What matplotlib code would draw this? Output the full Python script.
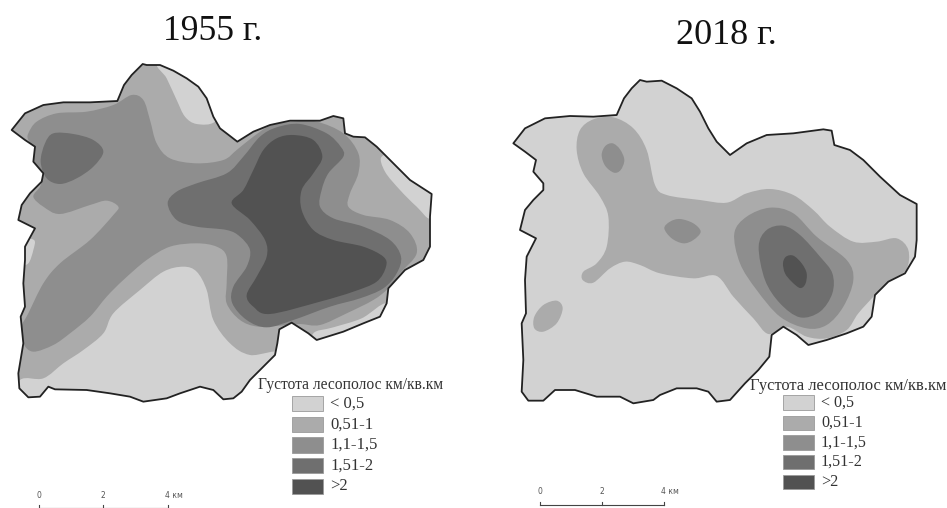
import matplotlib
matplotlib.use("Agg")
import matplotlib.pyplot as plt
from matplotlib.patches import PathPatch, Rectangle
from matplotlib.path import Path

W, H = 947, 508
plt.rcParams['font.family'] = ['Liberation Serif', 'DejaVu Serif']

COLORS = ['#d2d2d2', '#ababab', '#8e8e8e', '#6f6f6f', '#525252']
CLASS_LABELS = ['< 0,5', '0,51-1', '1,1-1,5', '1,51-2', '>2']
LEGEND_TITLE = 'Густота лесополос км/кв.км'
SCALE_LABELS = ['0', '2', '4 км']

# ---- 1955 ----
border_1955 = [(35,240),(75,190),(130,165),(190,157),(270,157),(352,153),(372,105),(395,75),(428,42),(440,45),(480,45),(520,62),(560,85),(595,110),(620,145),(640,200),(660,235),(690,258),(712,275),(760,245),(810,225),(870,212),(960,212),(1000,198),(1030,205),(1035,250),(1060,260),(1095,262),(1130,290),(1180,340),(1230,390),(1295,432),(1290,500),(1290,590),(1270,630),(1215,660),(1165,715),(1160,760),(1140,800),(1090,820),(1030,845),(950,870),(925,850),(875,818),(838,838),(832,880),(825,915),(790,950),(750,990),(725,1025),(700,1045),(670,1048),(640,1020),(600,1010),(540,1030),(500,1045),(430,1055),(390,1040),(330,1030),(260,1020),(165,1018),(145,1010),(120,1040),(85,1042),(58,1015),(55,970),(70,880),(62,800),(75,770),(70,700),(75,630),(75,590),(105,535),(55,510),(65,465),(90,430),(125,395),(130,370),(100,335),(105,290),(75,270)]
light_1955_a = [(475,40),(500,85),(530,150),(555,200),(590,222),(645,215),(680,150),(600,40)]
light_1955_b = [(1145,320),(1155,365),(1200,420),(1250,470),(1295,505),(1330,420),(1200,320)]
light_1955_c = [(102,570),(100,600),(85,640),(60,640),(60,570)]
light_1955_d = [(550,650),(490,665),(420,720),(340,790),(310,850),(250,900),(190,940),(130,985),(60,990),(30,1070),(800,1080),(850,915),(750,915),(690,880),(640,810),(620,720),(590,665)]
light_1955_e = [(940,850),(1000,832),(1085,805),(1160,760),(1180,830),(950,900)]
level2_1955 = [(85,250),(110,215),(170,190),(260,185),(340,165),(395,135),(430,150),(450,210),(470,280),(510,325),(590,340),(670,330),(710,300),(760,260),(810,228),(880,215),(950,215),(1030,250),(1075,310),(1075,370),(1050,430),(1045,470),(1090,495),(1170,510),(1230,550),(1250,610),(1200,670),(1165,715),(1120,750),(1040,790),(960,825),(900,822),(860,825),(775,830),(720,810),(680,760),(680,700),(680,620),(650,590),(590,580),(510,590),(440,630),(370,690),(320,740),(270,800),(210,850),(160,885),(100,905),(70,880),(65,830),(85,790),(130,700),(180,640),(270,570),(340,495),(355,470),(320,452),(270,465),(180,492),(130,470),(100,440),(120,410),(125,380),(100,335),(105,300),(85,270)]
level3_1955_a = [(135,280),(160,250),(220,252),(280,270),(310,305),(280,350),(230,385),(180,402),(140,385),(122,335)]
level3_1955_b = [(503,460),(530,425),(590,400),(680,370),(730,320),(780,260),(830,232),(900,222),(980,250),(1022,290),(1030,320),(985,370),(965,420),(960,470),(1000,505),(1090,530),(1170,570),(1203,620),(1190,670),(1150,715),(1080,745),(990,770),(880,810),(800,832),(740,810),(697,760),(700,710),(740,650),(750,600),(720,560),(680,540),(590,530),(530,510)]
level4_1955 = [(695,460),(730,420),(760,360),(790,300),(830,265),(880,255),(940,270),(967,320),(940,370),(905,420),(905,480),(940,540),(1000,570),(1090,590),(1150,620),(1158,650),(1130,695),(1060,725),(960,755),(810,792),(760,770),(740,735),(770,680),(800,620),(795,570),(750,510)]

# ---- 2018 ----
border_2018 = [(40,250),(75,205),(135,175),(210,168),(280,170),(350,165),(372,115),(395,85),(420,60),(440,65),(485,62),(530,85),(575,115),(600,155),(625,205),(650,245),(690,285),(740,250),(800,225),(880,220),(970,208),(995,212),(1003,255),(1050,270),(1090,300),(1140,350),(1200,405),(1250,432),(1250,540),(1245,590),(1215,640),(1165,665),(1125,705),(1115,770),(1090,800),(1040,820),(980,840),(925,855),(890,825),(850,800),(815,825),(808,890),(775,930),(735,970),(690,1020),(650,1025),(625,995),(590,985),(530,985),(480,1005),(460,1020),(400,1030),(360,1010),(290,1010),(225,990),(165,990),(130,1022),(85,1022),(65,995),(70,900),(65,790),(78,760),(75,660),(80,590),(108,535),(60,510),(75,450),(100,420),(130,390),(130,370),(100,335),(108,300),(75,275)]
level1_2018_a = [(230,270),(240,210),(280,178),(340,172),(400,205),(440,270),(465,375),(500,405),(600,420),(680,428),(740,400),(810,387),(880,405),(940,450),(990,500),(1060,545),(1130,545),(1190,535),(1225,570),(1218,630),(1165,665),(1125,705),(1075,760),(1040,810),(980,835),(920,830),(860,800),(805,822),(760,775),(700,710),(650,648),(580,655),(480,640),(420,615),(375,605),(330,625),(280,668),(248,660),(250,635),(290,610),(320,560),(325,470),(300,410),(250,340)]
level1_2018_b = [(103,770),(130,735),(170,722),(188,745),(170,790),(130,815),(103,805)]
level2_2018_a = [(305,285),(316,258),(338,250),(360,268),(373,300),(362,330),(342,338),(316,318)]
level2_2018_b = [(493,505),(510,485),(540,477),(580,490),(602,515),(580,540),(550,550),(515,535)]
level2_2018_c = [(703,520),(740,470),(810,443),(880,460),(950,530),(1040,600),(1060,660),(1030,740),(980,795),(920,805),(840,770),(770,690),(720,610)]
level3_2018 = [(776,560),(800,510),(850,497),(900,525),(960,590),(997,640),(997,700),(960,755),(900,772),(840,730),(795,660)]
level4_2018 = [(849,610),(858,590),(880,587),(905,610),(920,640),(916,672),(900,684),(875,665),(855,640)]

# legend swatch rows (top, bottom) in pixels
legend_rows_1955 = [(396, 411), (417, 432), (437, 453), (458, 473), (479, 494)]
legend_rows_2018 = [(395, 410), (416, 430), (435, 450), (455, 469), (475, 489)]


def smooth(points):
    """Closed smooth curve through the given vertices (Catmull-Rom as Bezier)."""
    n = len(points)
    verts = [points[0]]
    codes = [Path.MOVETO]
    for i in range(n):
        p0, p1, p2, p3 = points[i - 1], points[i], points[(i + 1) % n], points[(i + 2) % n]
        verts += [(p1[0] + (p2[0] - p0[0]) / 6, p1[1] + (p2[1] - p0[1]) / 6),
                  (p2[0] - (p3[0] - p1[0]) / 6, p2[1] - (p3[1] - p1[1]) / 6),
                  p2]
        codes += [Path.CURVE4] * 3
    verts.append(points[0])
    codes.append(Path.CLOSEPOLY)
    return Path(verts, codes)


def draw_map(ax, border, layers):
    clip = ax.fill(*zip(*border), color=layers[0][0], lw=0, zorder=1)[0]
    for z, (color, shapes) in enumerate(layers[1:], start=2):
        for shape in shapes:
            p = PathPatch(smooth(shape), fc=color, ec='none', zorder=z)
            ax.add_patch(p)
            p.set_clip_path(clip)
    ax.fill(*zip(*border), fc='none', ec='#222222', lw=1.3, zorder=10, joinstyle='round')


fig = plt.figure(figsize=(W / 100, H / 100), dpi=100, facecolor='white')


def axes_px(x0, y0, x1, y1):
    return fig.add_axes([x0 / W, 1 - y1 / H, (x1 - x0) / W, (y1 - y0) / H])


ax_a = axes_px(0, 50, 450, 410)
ax_a.set_xlim(0, 1350); ax_a.set_ylim(1080, 0); ax_a.axis('off')
draw_map(ax_a, border_1955, [
    (COLORS[1], []),
    (COLORS[0], [light_1955_a, light_1955_b, light_1955_c, light_1955_d, light_1955_e]),
    (COLORS[2], [level2_1955]),
    (COLORS[3], [level3_1955_a, level3_1955_b]),
    (COLORS[4], [level4_1955]),
])

ax_b = axes_px(500, 60, 947, 410)
ax_b.set_xlim(0, 1341); ax_b.set_ylim(1050, 0); ax_b.axis('off')
draw_map(ax_b, border_2018, [
    (COLORS[0], []),
    (COLORS[1], [level1_2018_a, level1_2018_b]),
    (COLORS[2], [level2_2018_a, level2_2018_b, level2_2018_c]),
    (COLORS[3], [level3_2018]),
    (COLORS[4], [level4_2018]),
])

ov = axes_px(0, 0, W, H)
ov.set_xlim(0, W); ov.set_ylim(H, 0); ov.axis('off'); ov.patch.set_alpha(0)

ov.text(213, 32, '1955 г.', fontsize=25.5, ha='center', va='center', color='#111111')
ov.text(726, 36, '2018 г.', fontsize=26, ha='center', va='center', color='#111111')


def legend(x_title, y_title, x_swatch, rows, title_size, label_size):
    ov.text(x_title, y_title, LEGEND_TITLE, fontsize=title_size, va='center', ha='left', color='#333333')
    for (top, bot), c, lab in zip(rows, COLORS, CLASS_LABELS):
        ov.add_patch(Rectangle((x_swatch, top), 31, bot - top, fc=c, ec='#9a9a9a', lw=0.6))
        ov.text(x_swatch + 38, (top + bot) / 2, lab, fontsize=label_size, va='center', ha='left', color='#333333')


legend(258, 385, 292, legend_rows_1955, 11.2, 12)
legend(750, 386, 783, legend_rows_2018, 11.9, 11.6)


def scale_bar(xs, y_lab, y_line, tick):
    ov.plot([xs[0], xs[-1]], [y_line, y_line], color='#444444', lw=0.8, clip_on=True)
    for x, lab in zip(xs, SCALE_LABELS):
        ov.plot([x, x], [y_line - tick, y_line], color='#444444', lw=0.8)
        ov.text(x - (0 if lab != '4 км' else 3), y_lab, lab, fontsize=5.5, family='DejaVu Sans',
                va='center', ha='left' if lab == '4 км' else 'center', color='#555555')


scale_bar([39, 103, 168], 496, 508, 3)
scale_bar([540, 601.5, 664], 492, 505, 3.5)

fig.savefig('out.png', dpi=100, facecolor='white')
